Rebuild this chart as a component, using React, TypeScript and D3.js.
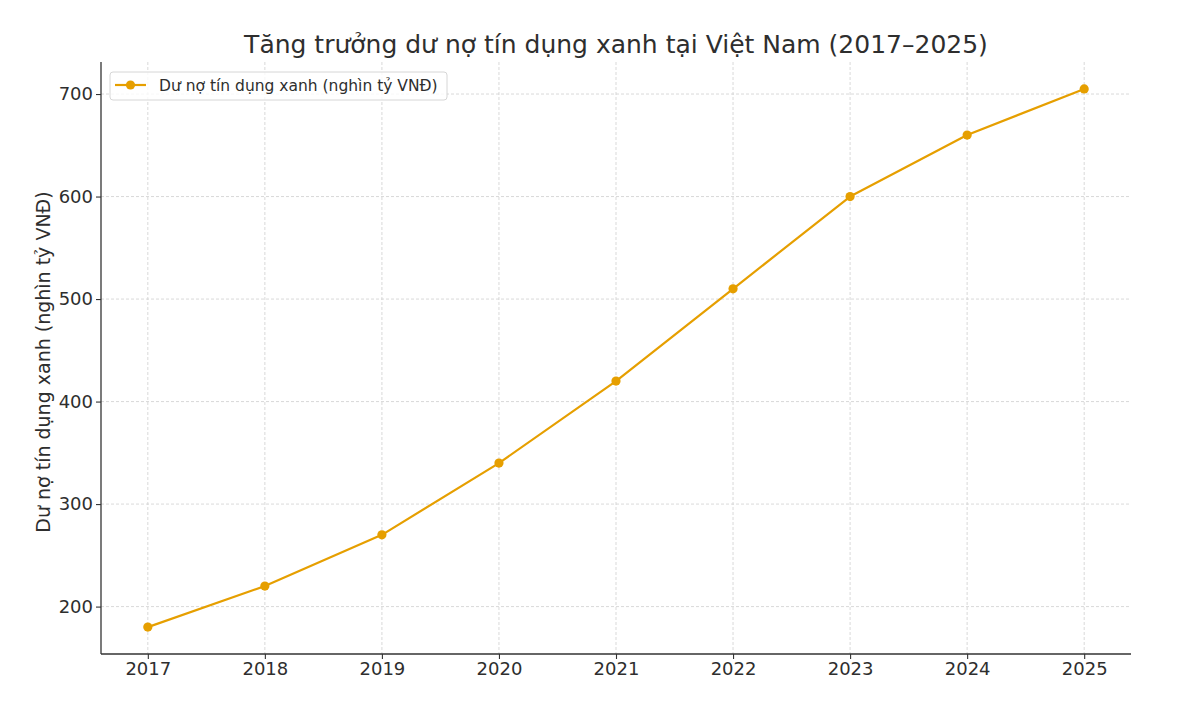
import React, { useEffect, useRef } from "react";
import * as d3 from "d3";

const years = [2017, 2018, 2019, 2020, 2021, 2022, 2023, 2024, 2025];
const credit = [180, 220, 270, 340, 420, 510, 600, 660, 705];
const yTicks = [200, 300, 400, 500, 600, 700];

const title = "Tăng trưởng dư nợ tín dụng xanh tại Việt Nam (2017–2025)";
const yLabel = "Dư nợ tín dụng xanh (nghìn tỷ VNĐ)";
const seriesName = "Dư nợ tín dụng xanh (nghìn tỷ VNĐ)";

const lineColor = "#e69f00";
const textColor = "#2e2e2e";

const App: React.FC = () => {
  const svgRef = useRef<SVGSVGElement>(null);

  const width = 1200;
  const height = 707;
  const margin = { top: 62, right: 69, bottom: 53, left: 101 };
  const innerW = width - margin.left - margin.right;
  const innerH = height - margin.top - margin.bottom;

  useEffect(() => {
    if (svgRef.current === null) return;
    const svg = d3.select(svgRef.current);
    svg.selectAll("*").remove();

    // matplotlib style 5% margins
    const xPad = (years[years.length - 1] - years[0]) * 0.05;
    const yMin = d3.min(credit) as number;
    const yMax = d3.max(credit) as number;
    const yPad = (yMax - yMin) * 0.05;

    const x = d3
      .scaleLinear()
      .domain([years[0] - xPad, years[years.length - 1] + xPad])
      .range([0, innerW]);
    const y = d3
      .scaleLinear()
      .domain([yMin - yPad, yMax + yPad])
      .range([innerH, 0]);

    const g = svg
      .append("g")
      .attr("transform", `translate(${margin.left}, ${margin.top})`);

    // grid
    g.append("g")
      .selectAll("line")
      .data(years)
      .enter()
      .append("line")
      .attr("x1", d => x(d))
      .attr("x2", d => x(d))
      .attr("y1", 0)
      .attr("y2", innerH)
      .attr("stroke", "#cfcfcf")
      .attr("stroke-width", 0.8)
      .attr("stroke-dasharray", "3,2");

    g.append("g")
      .selectAll("line")
      .data(yTicks)
      .enter()
      .append("line")
      .attr("x1", 0)
      .attr("x2", innerW)
      .attr("y1", d => y(d))
      .attr("y2", d => y(d))
      .attr("stroke", "#cfcfcf")
      .attr("stroke-width", 0.8)
      .attr("stroke-dasharray", "3,2");

    // axes
    const xAxis = d3
      .axisBottom(x)
      .tickValues(years)
      .tickFormat(d => String(d))
      .tickSize(5)
      .tickPadding(3);
    const yAxis = d3
      .axisLeft(y)
      .tickValues(yTicks)
      .tickFormat(d => String(d))
      .tickSize(5)
      .tickPadding(3);

    const xg = g
      .append("g")
      .attr("transform", `translate(0, ${innerH})`)
      .call(xAxis);
    const yg = g.append("g").call(yAxis);

    [xg, yg].forEach(ax => {
      ax.select(".domain").attr("stroke", "#333").attr("stroke-width", 1.3);
      ax.selectAll(".tick line").attr("stroke", "#333").attr("stroke-width", 1.1);
      ax.selectAll("text")
        .attr("fill", textColor)
        .style("font-family", "DejaVu Sans")
        .style("font-size", "18px");
    });
    // matplotlib spines have no end caps
    xg.select(".domain").attr("d", `M0,0H${innerW}`);
    yg.select(".domain").attr("d", `M0,0V${innerH}`);

    // line + markers
    const line = d3
      .line<number>()
      .x((_, i) => x(years[i]))
      .y(d => y(d));

    g.append("path")
      .datum(credit)
      .attr("d", line)
      .attr("fill", "none")
      .attr("stroke", lineColor)
      .attr("stroke-width", 2.2)
      .attr("stroke-linejoin", "round");

    g.append("g")
      .selectAll("circle")
      .data(credit)
      .enter()
      .append("circle")
      .attr("cx", (_, i) => x(years[i]))
      .attr("cy", d => y(d))
      .attr("r", 4.6)
      .attr("fill", lineColor);

    // legend
    const lg = g.append("g").attr("transform", "translate(9, 10)");
    lg.append("rect")
      .attr("width", 337)
      .attr("height", 28)
      .attr("rx", 3)
      .attr("fill", "white")
      .attr("fill-opacity", 0.8)
      .attr("stroke", "#d6d6d6");
    lg.append("line")
      .attr("x1", 5)
      .attr("x2", 36)
      .attr("y1", 13)
      .attr("y2", 13)
      .attr("stroke", lineColor)
      .attr("stroke-width", 2.2);
    lg.append("circle")
      .attr("cx", 20.5)
      .attr("cy", 13)
      .attr("r", 4.6)
      .attr("fill", lineColor);
    lg.append("text")
      .attr("x", 49)
      .attr("y", 18.5)
      .attr("fill", textColor)
      .style("font-family", "DejaVu Sans")
      .style("font-size", "15.5px")
      .text(seriesName);

    // title
    svg
      .append("text")
      .attr("x", margin.left + innerW / 2)
      .attr("y", 53)
      .attr("text-anchor", "middle")
      .attr("fill", textColor)
      .style("font-family", "DejaVu Sans")
      .style("font-size", "25px")
      .text(title);

    // y label
    svg
      .append("text")
      .attr("transform", `translate(50, 362) rotate(-90)`)
      .attr("text-anchor", "middle")
      .attr("fill", textColor)
      .style("font-family", "DejaVu Sans")
      .style("font-size", "19px")
      .text(yLabel);
  }, []);

  return (
    <svg
      ref={svgRef}
      width={width}
      height={height}
      style={{ position: "absolute", left: 0, top: 0, background: "white" }}
    />
  );
};

export default App;
